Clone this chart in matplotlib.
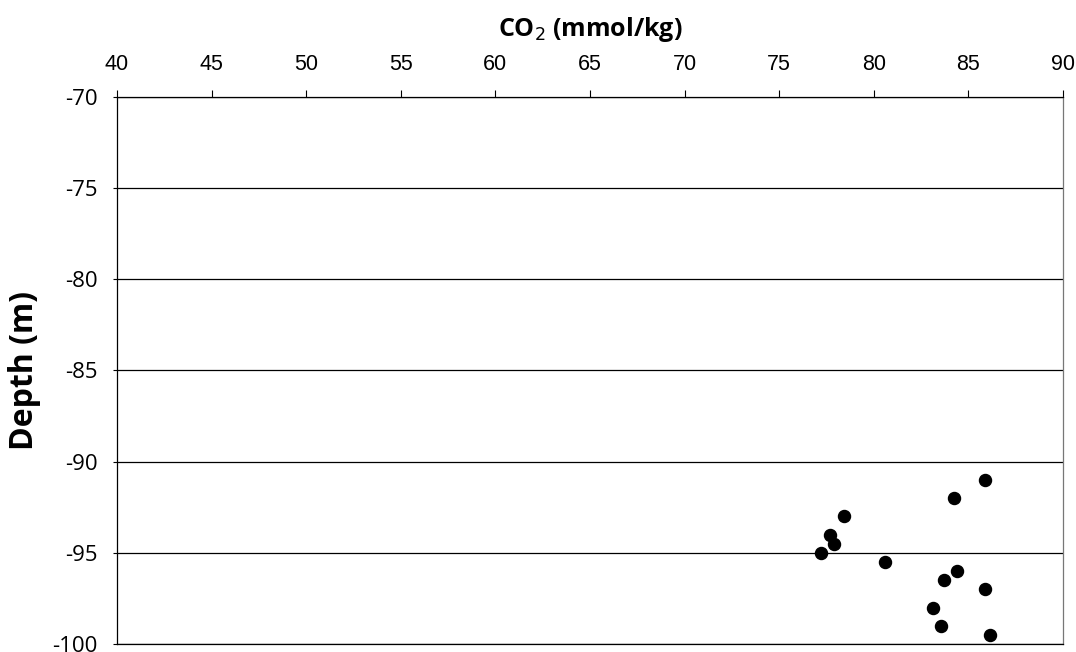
import matplotlib.pyplot as plt

plt.rcParams['axes.unicode_minus'] = False

# CO2 vs depth samples
co2 = [85.9, 84.25, 78.45, 77.7, 77.9, 77.2, 80.6, 84.4, 83.7, 85.9, 83.15, 83.55, 86.15]
depth = [-91.0, -92.0, -93.0, -94.0, -94.5, -95.0, -95.5, -96.0, -96.5, -97.0, -98.0, -99.0, -99.5]
xticks = [40, 45, 50, 55, 60, 65, 70, 75, 80, 85, 90]
yticks = [-70, -75, -80, -85, -90, -95, -100]

fig = plt.figure(figsize=(10.76, 6.52), dpi=100)
ax = fig.add_axes([0.1087, 0.0123, 0.8792, 0.8389])

for y in yticks:
    ax.axhline(y, color='black', lw=0.9, zorder=1)
ax.scatter(co2, depth, s=75, color='black', zorder=3)

ax.set_xlim(40, 90)
ax.set_ylim(-100, -70)
ax.xaxis.tick_top()
ax.xaxis.set_label_position('top')
ax.set_xticks(xticks)
ax.set_yticks(yticks)
ax.tick_params(axis='x', direction='out', length=5, pad=11, labelsize=15.5, width=0.8)
ax.tick_params(axis='y', direction='out', length=3, pad=11, labelsize=16, width=0.8)
for lab in ax.get_xticklabels():
    lab.set_family('Liberation Sans')
for lab in ax.get_yticklabels():
    lab.set_family('Open Sans')

for side in ['top', 'left', 'right', 'bottom']:
    ax.spines[side].set_linewidth(0.9)
ax.spines['right'].set_color('#777777')

ax.set_xlabel('CO$_2$ (mmol/kg)', fontsize=18, fontweight='bold', family='Open Sans', labelpad=13)
ax.set_ylabel('Depth (m)', fontsize=23, fontweight='bold', family='Open Sans', labelpad=8)

fig.savefig('out.png', dpi=100)
